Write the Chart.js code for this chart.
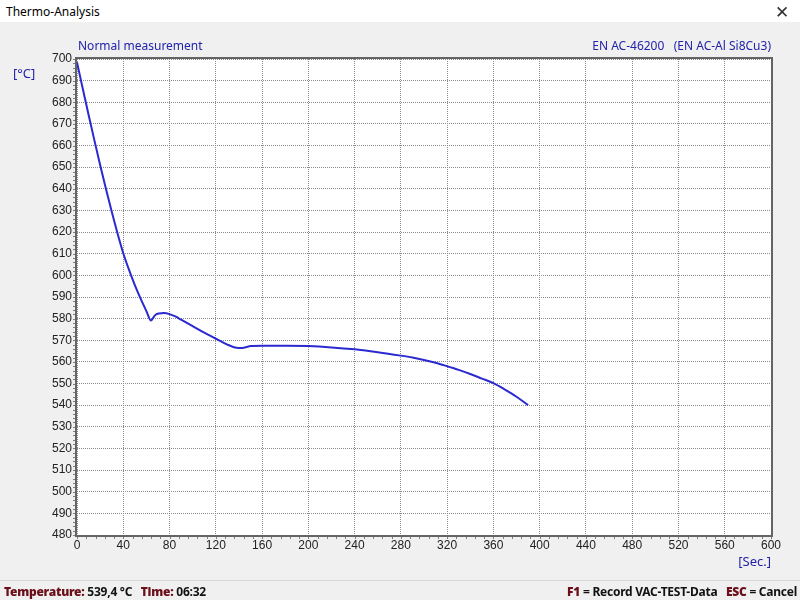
<!DOCTYPE html>
<html>
<head>
<meta charset="utf-8">
<script src="https://cdn.jsdelivr.net/npm/chart.js@4"></script>
<style>
  html, body { margin: 0; padding: 0; }
  body { width: 800px; height: 600px; background: #f0f0f0; position: relative; overflow: hidden;
         font-family: "Noto Sans", "Open Sans", sans-serif; }
  #chart { position: absolute; left: 0; top: 0; }
  #titlebar { position: absolute; left: 0; top: 0; width: 800px; height: 22px; background: #fff; }
  #titlebar .t { position: absolute; left: 6px; top: 3px; font-size: 12px; color: #000; }
  #titlebar .x { position: absolute; left: 775px; top: 0px; font-size: 17px; color: #333; font-weight: 300; }
  .blue { position: absolute; color: #2222aa; font-size: 12px; white-space: pre; }
  #status { position: absolute; left: 0; top: 580px; width: 800px; height: 20px; border-top: 1px solid #d7d7d7; }
  #status span { position: absolute; top: 2px; font-size: 12px; font-weight: bold; white-space: pre; color: #111;
                 letter-spacing: -0.25px; }
  #status b { color: #6b0f1a; }
</style>
</head>
<body>
<canvas id="chart" width="800" height="600"></canvas>
<div id="titlebar"><span class="t">Thermo-Analysis</span><span class="x">✕</span></div>
<div class="blue" style="left:78px; top:37px;">Normal measurement</div>
<div class="blue" style="right:29px; top:37px;">EN AC-46200   (EN AC-Al Si8Cu3)</div>
<div class="blue" style="left:13px; top:64px; font-size:13px;">[°C]</div>
<div class="blue" style="right:29px; top:552px; font-size:13px;">[Sec.]</div>
<div id="status">
  <span style="left:4px;"><b>Temperature:</b> 539,4 °C   <b>Time:</b> 06:32</span>
  <span style="right:3px;"><b>F1</b> = Record VAC-TEST-Data   <b>ESC</b> = Cancel</span>
</div>
<script>
// valores
const tiempoSeg = [0, 5, 10, 15, 20, 25, 30, 35, 40, 45, 50, 55, 60, 64, 66, 68, 71, 75, 80, 85, 90,
  100, 110, 120, 130, 138, 142, 146, 150, 160, 180, 200, 220, 240, 260, 280, 290, 300, 310, 320,
  330, 340, 350, 360, 370, 380, 390];
const temperatura = [698.5, 686.25, 674.25, 662.5, 651, 640, 629.5, 619.5, 610.25, 602.5, 595.5, 589.25,
  583.5, 579.1, 580.5, 581.8, 582.4, 582.6, 582.1, 581, 579.5, 576.5, 573.5, 570.8, 568, 566.5, 566.4,
  566.8, 567.3, 567.5, 567.5, 567.3, 566.7, 565.8, 564.5, 562.9, 562, 560.9, 559.6, 558, 556.3, 554.4,
  552.3, 550.2, 547.2, 543.9, 540];

const xMin = 0, xMax = 600, xStep = 40, xMinor = 8;
const yMin = 480, yMax = 700, yStep = 10, yMinor = 2;

// --- fondo blanco, marco y marcas menores ---
const marcoPlugin = {
  id: 'marco',
  beforeDraw(chart) {
    const a = chart.chartArea, ctx = chart.ctx;
    ctx.save();
    ctx.fillStyle = '#ffffff';
    ctx.fillRect(a.left, a.top, a.right - a.left, a.bottom - a.top);
    ctx.restore();
  },
  afterDraw(chart) {
    const a = chart.chartArea, ctx = chart.ctx;
    const xs = chart.scales.x, ys = chart.scales.y;
    ctx.save();
    ctx.strokeStyle = '#808080';
    ctx.lineWidth = 1;
    ctx.beginPath();
    for (let v = yMin; v <= yMax; v += yMinor) {
      const py = Math.round(ys.getPixelForValue(v)) + 0.5;
      ctx.moveTo(a.left - 4, py); ctx.lineTo(a.left, py);
    }
    for (let v = xMin; v <= xMax; v += xMinor) {
      const px = Math.round(xs.getPixelForValue(v)) + 0.5;
      ctx.moveTo(px, a.bottom); ctx.lineTo(px, a.bottom + 4);
    }
    ctx.stroke();
    ctx.strokeStyle = '#646464';
    ctx.lineWidth = 2;
    ctx.strokeRect(a.left - 1, a.top - 1, a.right - a.left + 2, a.bottom - a.top + 2);
    ctx.restore();
  }
};

const ctx = document.getElementById('chart').getContext('2d');
new Chart(ctx, {
  type: 'line',
  data: {
    datasets: [{
      data: tiempoSeg.map((t, i) => ({ x: t, y: temperatura[i] })),
      borderColor: '#2a2ad0',
      borderWidth: 2,
      pointRadius: 0,
      cubicInterpolationMode: 'monotone',
      fill: false
    }]
  },
  options: {
    responsive: false,
    devicePixelRatio: 1,
    animation: false,
    layout: { padding: { left: 0, top: 59, right: 29, bottom: 45 } },
    plugins: { legend: { display: false }, tooltip: { enabled: false } },
    scales: {
      x: {
        type: 'linear', min: xMin, max: xMax,
        afterFit: s => { s.height = 20; },
        ticks: { stepSize: xStep, padding: 3, color: '#222', maxRotation: 0,
                 font: { family: 'Liberation Sans', size: 12 } },
        grid: { color: '#8c8c8c', drawTicks: false, lineWidth: 1 },
        border: { display: false, dash: [1, 1] }
      },
      y: {
        min: yMin, max: yMax,
        afterFit: s => { s.width = 77; },
        ticks: { stepSize: yStep, padding: 5, color: '#222',
                 font: { family: 'Liberation Sans', size: 12 } },
        grid: { color: '#8c8c8c', drawTicks: false, lineWidth: 1 },
        border: { display: false, dash: [1, 1] }
      }
    }
  },
  plugins: [marcoPlugin]
});
</script>
</body>
</html>
